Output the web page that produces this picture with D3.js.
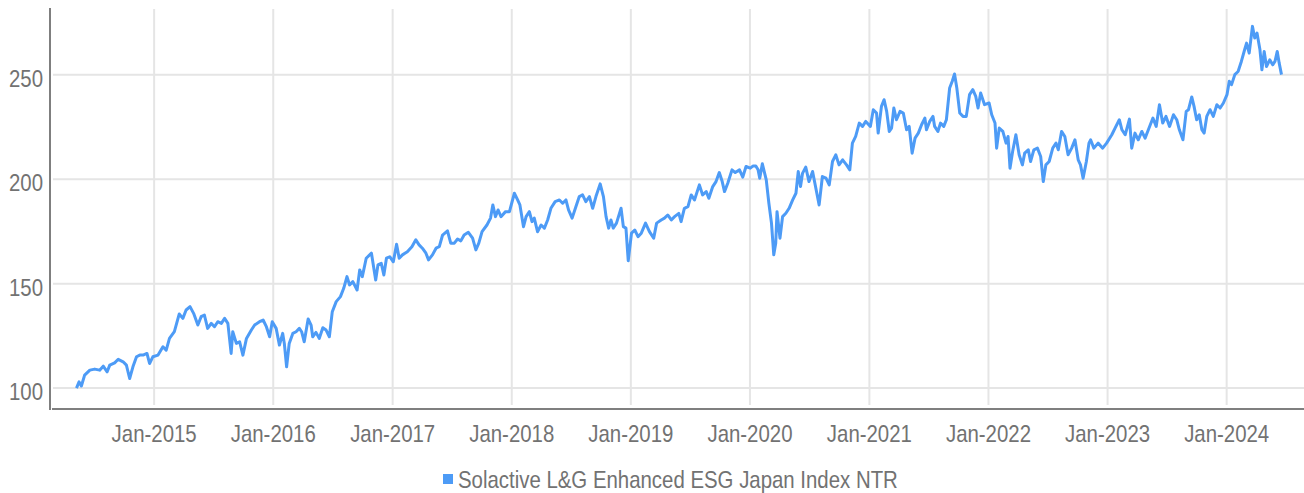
<!DOCTYPE html>
<html>
<head>
<meta charset="utf-8">
<script src="https://cdn.jsdelivr.net/npm/d3@7"></script>
<style>
  body { margin: 0; background: #fff; }
  svg { display: block; font-family: "Liberation Sans Narrow", "Liberation Sans", sans-serif; }
</style>
</head>
<body>
<svg width="1304" height="493"></svg>
<script>
// Series
const seriesName = "Solactive L&G Enhanced ESG Japan Index NTR";

const dates = [
  "2014-05-08","2014-05-16","2014-05-23","2014-06-02","2014-06-18","2014-07-03","2014-07-18","2014-07-29","2014-08-10","2014-08-18","2014-09-02","2014-09-13","2014-09-28","2014-10-08","2014-10-18","2014-10-28","2014-11-08","2014-11-18","2014-11-28","2014-12-10","2014-12-18","2014-12-28",
  "2015-01-13","2015-01-28","2015-02-07","2015-02-17","2015-03-04","2015-03-11","2015-03-19","2015-03-30","2015-04-09","2015-04-21","2015-05-02","2015-05-15","2015-05-25","2015-06-04","2015-06-14","2015-06-25","2015-07-05","2015-07-15","2015-07-26","2015-08-05","2015-08-15","2015-08-25","2015-08-30","2015-09-10","2015-09-20","2015-09-30","2015-10-11","2015-10-26","2015-11-05","2015-11-20","2015-12-01","2015-12-11","2015-12-21","2015-12-29",
  "2016-01-10","2016-01-20","2016-01-30","2016-02-04","2016-02-11","2016-02-19","2016-03-01","2016-03-11","2016-03-21","2016-03-28","2016-04-05","2016-04-17","2016-04-26","2016-05-01","2016-05-11","2016-05-21","2016-06-01","2016-06-11","2016-06-21","2016-06-30","2016-07-12","2016-07-25","2016-08-04","2016-08-14","2016-08-22","2016-09-01","2016-09-14","2016-09-22","2016-09-30","2016-10-12","2016-10-28","2016-11-10","2016-11-17","2016-11-27","2016-12-05","2016-12-13","2016-12-23",
  "2017-01-03","2017-01-13","2017-01-21","2017-01-31","2017-02-15","2017-03-01","2017-03-13","2017-03-23","2017-04-02","2017-04-13","2017-04-21","2017-05-03","2017-05-14","2017-05-24","2017-06-03","2017-06-18","2017-06-28","2017-07-09","2017-07-19","2017-07-29","2017-08-08","2017-08-21","2017-09-03","2017-09-13","2017-09-22","2017-10-02","2017-10-17","2017-10-28","2017-11-04","2017-11-12","2017-11-20","2017-11-29","2017-12-13","2017-12-25",
  "2018-01-09","2018-01-19","2018-01-26","2018-02-06","2018-02-14","2018-02-24","2018-03-04","2018-03-11","2018-03-21","2018-04-01","2018-04-11","2018-04-21","2018-05-01","2018-05-14","2018-05-27","2018-06-06","2018-06-16","2018-06-24","2018-07-05","2018-07-15","2018-07-27","2018-08-06","2018-08-16","2018-08-27","2018-09-06","2018-09-16","2018-09-29","2018-10-09","2018-10-17","2018-10-25","2018-11-01","2018-11-08","2018-11-18","2018-12-02","2018-12-09","2018-12-17","2018-12-24",
  "2019-01-03","2019-01-13","2019-01-23","2019-02-02","2019-02-15","2019-02-27","2019-03-12","2019-03-21","2019-04-04","2019-04-14","2019-04-24","2019-05-05","2019-05-15","2019-05-28","2019-06-04","2019-06-14","2019-06-25","2019-07-05","2019-07-15","2019-07-30","2019-08-09","2019-08-20","2019-08-28","2019-09-09","2019-09-19","2019-09-29","2019-10-08","2019-10-15","2019-10-25","2019-11-07","2019-11-17","2019-11-30","2019-12-10","2019-12-20",
  "2020-01-02","2020-01-11","2020-01-19","2020-01-26","2020-01-31","2020-02-08","2020-02-20","2020-02-28","2020-03-07","2020-03-14","2020-03-20","2020-03-24","2020-04-02","2020-04-10","2020-04-20","2020-04-30","2020-05-11","2020-05-21","2020-05-28","2020-06-04","2020-06-10","2020-06-20","2020-06-30","2020-07-11","2020-07-18","2020-07-31","2020-08-10","2020-08-21","2020-08-31","2020-09-10","2020-09-20","2020-09-30","2020-10-11","2020-10-23","2020-11-02","2020-11-10","2020-11-20","2020-12-01","2020-12-11","2020-12-21",
  "2021-01-04","2021-01-13","2021-01-23","2021-01-28","2021-02-07","2021-02-15","2021-02-23","2021-03-03","2021-03-10","2021-03-17","2021-03-25","2021-04-05","2021-04-15","2021-04-25","2021-05-03","2021-05-12","2021-05-21","2021-05-31","2021-06-10","2021-06-20","2021-06-25","2021-07-05","2021-07-15","2021-07-20","2021-07-30","2021-08-07","2021-08-17","2021-08-25","2021-09-04","2021-09-12","2021-09-19","2021-09-26","2021-10-05","2021-10-15","2021-10-25","2021-11-04","2021-11-14","2021-11-23","2021-11-30","2021-12-08","2021-12-20",
  "2022-01-03","2022-01-11","2022-01-21","2022-01-26","2022-02-03","2022-02-14","2022-02-24","2022-03-02","2022-03-08","2022-03-16","2022-03-26","2022-04-05","2022-04-15","2022-04-22","2022-05-03","2022-05-10","2022-05-20","2022-05-31","2022-06-10","2022-06-18","2022-06-26","2022-07-06","2022-07-17","2022-07-27","2022-08-03","2022-08-13","2022-08-23","2022-09-02","2022-09-13","2022-09-23","2022-10-03","2022-10-10","2022-10-18","2022-10-28","2022-11-05","2022-11-10","2022-11-20","2022-12-03","2022-12-17","2022-12-29",
  "2023-01-14","2023-01-24","2023-02-06","2023-02-14","2023-02-24","2023-03-09","2023-03-16","2023-03-26","2023-04-05","2023-04-16","2023-04-26","2023-05-06","2023-05-20","2023-05-30","2023-06-09","2023-06-19","2023-06-29","2023-07-10","2023-07-22","2023-08-01","2023-08-09","2023-08-20","2023-08-30","2023-09-06","2023-09-16","2023-09-23","2023-10-01","2023-10-09","2023-10-17","2023-10-24","2023-11-01","2023-11-11","2023-11-21","2023-12-02","2023-12-12","2023-12-22",
  "2024-01-02","2024-01-09","2024-01-16","2024-01-26","2024-02-05","2024-02-15","2024-02-25","2024-03-02","2024-03-10","2024-03-20","2024-03-27","2024-04-03","2024-04-12","2024-04-18","2024-04-25","2024-05-02","2024-05-12","2024-05-21","2024-05-28","2024-06-04","2024-06-10","2024-06-17"
];

const values = [
  100.0,103.0,101.0,106.2,108.6,109.1,108.6,110.5,107.8,111.0,112.1,113.8,112.6,111.0,104.6,110.2,115.0,115.8,115.8,116.6,111.8,115.0,
  115.8,119.8,118.2,123.8,127.0,131.0,135.5,133.4,137.4,139.0,135.8,130.2,134.2,135.0,128.6,131.0,129.4,131.8,131.0,133.4,131.0,116.6,127.0,121.4,122.2,115.8,123.8,127.8,130.2,131.8,132.6,129.4,124.6,131.8,
  128.6,120.6,126.2,121.4,110.2,121.4,126.2,127.0,128.6,127.0,122.2,133.1,130.2,124.6,126.7,123.8,128.9,127.8,124.6,136.6,141.4,143.8,147.8,153.4,149.4,151.0,147.0,156.6,153.4,162.2,164.6,151.8,159.0,159.8,154.2,162.2,162.9,
  160.5,168.9,162.2,163.8,165.3,167.7,171.0,168.6,167.0,164.6,161.4,163.8,167.0,167.7,173.3,175.3,169.4,169.4,171.4,170.5,173.3,174.6,171.8,166.2,169.4,174.9,178.1,181.4,187.7,182.1,185.3,182.1,184.5,184.5,
  193.3,190.1,187.7,177.3,182.1,184.5,179.7,181.4,174.9,178.1,176.6,180.5,186.1,189.3,190.1,188.5,190.1,185.3,181.4,186.1,191.7,192.5,189.3,191.7,186.1,191.7,197.8,191.7,182.1,176.6,180.5,176.6,179.0,186.1,177.3,176.6,161.0,
  174.2,175.7,172.5,174.2,179.0,174.9,171.8,179.0,180.5,181.4,182.9,180.5,182.1,183.7,179.7,186.1,186.9,192.5,190.1,197.3,192.5,194.1,190.9,196.5,198.9,203.2,198.9,194.1,198.1,204.5,203.2,204.5,201.0,206.1,
  205.3,206.4,206.4,204.5,200.5,207.4,199.7,188.5,179.0,163.8,169.4,184.5,171.8,182.1,183.7,186.1,190.1,193.3,203.7,196.5,202.8,205.8,198.9,203.7,198.1,187.7,201.3,200.5,197.3,208.5,211.7,206.9,209.3,206.9,204.5,217.3,220.5,226.9,225.3,227.7,
  225.3,233.3,231.7,222.1,234.9,238.1,232.5,222.9,224.5,234.1,228.5,232.5,231.7,223.7,225.3,212.5,219.7,222.1,226.1,229.3,223.7,227.7,230.1,225.3,222.9,226.9,225.3,228.5,243.7,246.9,250.4,243.7,231.7,230.1,230.1,240.5,242.9,239.7,234.1,241.3,235.7,
  236.5,230.9,226.9,214.9,224.5,222.9,217.3,220.5,205.3,213.3,221.3,211.7,206.9,212.5,214.1,208.5,214.1,214.9,210.9,198.9,206.9,208.5,214.9,217.3,214.1,222.9,220.5,211.7,214.9,218.9,209.3,206.9,200.5,208.5,217.3,218.9,214.9,217.3,214.9,217.3,
  221.3,224.5,228.5,223.7,221.3,228.8,214.9,222.1,218.9,222.9,219.7,223.7,229.3,225.3,235.7,226.9,230.1,225.3,230.9,228.5,223.7,218.9,232.5,233.3,239.4,234.9,228.5,230.9,223.7,222.1,230.1,233.3,230.1,235.7,234.1,236.5,
  240.5,246.9,245.3,250.1,251.6,256.4,262.0,265.2,260.4,273.2,267.6,270.0,262.0,252.4,261.2,254.0,257.2,254.8,256.4,261.2,255.6,250.1
];

const yTicks = [100, 150, 200, 250];
const xTickYears = [2015, 2016, 2017, 2018, 2019, 2020, 2021, 2022, 2023, 2024];

const parse = d3.timeParse("%Y-%m-%d");
const data = dates.map((d, i) => ({ date: parse(d), value: values[i] }));

const svg = d3.select("svg");
const plotLeft = 52, plotRight = 1304, plotTop = 8, plotBottom = 409;

const x = d3.scaleTime()
  .domain([parse("2014-02-22"), parse("2024-08-25")])
  .range([plotLeft, plotRight]);

const y = d3.scaleLinear()
  .domain([90, 282])
  .range([plotBottom, plotTop]);

const gridColor = "#e5e5e5";
const textColor = "#727272";
const lineColor = "#4d9bf6";
const squeeze = 0.85; // reference font is condensed

// grid
svg.append("g")
  .selectAll("line")
  .data(yTicks)
  .join("line")
  .attr("x1", plotLeft + 1)
  .attr("x2", plotRight)
  .attr("y1", d => y(d))
  .attr("y2", d => y(d))
  .attr("stroke", gridColor)
  .attr("stroke-width", 2);

const xTicks = xTickYears.map(yr => new Date(yr, 0, 1));

svg.append("g")
  .selectAll("line")
  .data(xTicks)
  .join("line")
  .attr("x1", d => x(d))
  .attr("x2", d => x(d))
  .attr("y1", plotTop + 1)
  .attr("y2", plotBottom - 4)
  .attr("stroke", gridColor)
  .attr("stroke-width", 2);

// series
const line = d3.line()
  .x(d => x(d.date))
  .y(d => y(d.value));

svg.append("path")
  .datum(data)
  .attr("d", line)
  .attr("fill", "none")
  .attr("stroke", lineColor)
  .attr("stroke-width", 3)
  .attr("stroke-linejoin", "round");

// axes
svg.append("line")
  .attr("x1", plotLeft - 2).attr("x2", plotLeft - 2)
  .attr("y1", plotTop).attr("y2", plotBottom + 1)
  .attr("stroke", "#7f7f7f").attr("stroke-width", 2);

svg.append("line")
  .attr("x1", plotLeft).attr("x2", plotRight)
  .attr("y1", plotBottom).attr("y2", plotBottom)
  .attr("stroke", "#7f7f7f").attr("stroke-width", 2);

// y labels
svg.append("g")
  .selectAll("text")
  .data(yTicks)
  .join("text")
  .attr("transform", d => `translate(43,${y(d) + 12}) scale(${squeeze},1)`)
  .attr("text-anchor", "end")
  .attr("font-size", 24)
  .attr("fill", textColor)
  .text(d => d);

// x labels
const fmt = d3.timeFormat("%b-%Y");
svg.append("g")
  .selectAll("text")
  .data(xTicks)
  .join("text")
  .attr("transform", d => `translate(${x(d)},442) scale(${squeeze},1)`)
  .attr("text-anchor", "middle")
  .attr("font-size", 24)
  .attr("fill", textColor)
  .text(d => fmt(d));

// legend
const legend = svg.append("g");
legend.append("rect")
  .attr("x", 443).attr("y", 474)
  .attr("width", 10).attr("height", 10)
  .attr("fill", lineColor);
legend.append("text")
  .attr("transform", `translate(458,488) scale(${squeeze},1)`)
  .attr("font-size", 24)
  .attr("fill", textColor)
  .text(seriesName);
</script>
</body>
</html>
